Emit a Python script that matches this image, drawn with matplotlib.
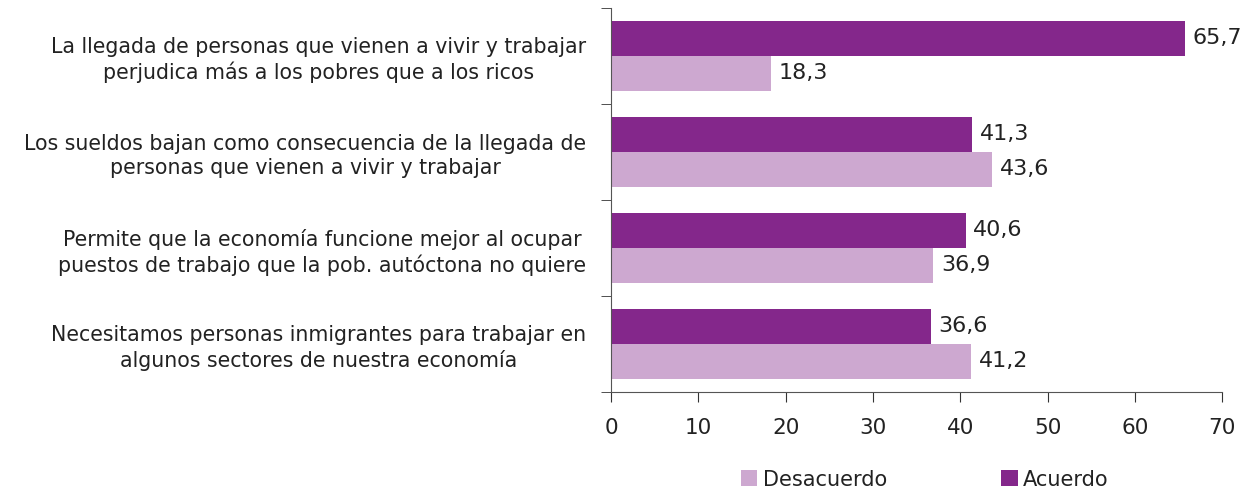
import matplotlib.pyplot as plt
import numpy as np

plt.rcParams['font.family'] = ['DejaVu Sans']

categories = [
    "La llegada de personas que vienen a vivir y trabajar\nperjudica más a los pobres que a los ricos",
    "Los sueldos bajan como consecuencia de la llegada de\npersonas que vienen a vivir y trabajar",
    "Permite que la economía funcione mejor al ocupar\npuestos de trabajo que la pob. autóctona no quiere",
    "Necesitamos personas inmigrantes para trabajar en\nalgunos sectores de nuestra economía",
]
acuerdo = [65.7, 41.3, 40.6, 36.6]
desacuerdo = [18.3, 43.6, 36.9, 41.2]

col_acuerdo = '#84278B'
col_desacuerdo = '#CDA8D0'
text_col = '#222222'

fig = plt.figure(figsize=(12.6, 4.96), dpi=100)
ax = fig.add_axes([0.485, 0.21, 0.485, 0.774])

y = np.arange(len(categories))
h = 0.365
b1 = ax.barh(y - h / 2, acuerdo, height=h, color=col_acuerdo, label='Acuerdo')
b2 = ax.barh(y + h / 2, desacuerdo, height=h, color=col_desacuerdo, label='Desacuerdo')

for bars, vals in ((b1, acuerdo), (b2, desacuerdo)):
    for bar, v in zip(bars, vals):
        ax.text(bar.get_width() + 0.9, bar.get_y() + bar.get_height() / 2,
                f"{v:.1f}".replace('.', ','), va='center', ha='left',
                fontsize=16, color=text_col)

ax.set_ylim(len(categories) - 0.5, -0.5)
ax.set_xlim(0, 70)
ax.set_xticks(range(0, 71, 10))
ax.set_yticks(y)
ax.set_yticklabels(categories, fontsize=14.8, color=text_col, multialignment='center',
                   linespacing=1.25)
ax.set_yticks(np.arange(-0.5, len(categories)), minor=True)
ax.tick_params(axis='y', which='major', length=0, pad=18)
ax.tick_params(axis='y', which='minor', length=7, direction='out', color='#333333')
ax.tick_params(axis='x', length=7, direction='out', labelsize=15.5, labelcolor=text_col,
               pad=12, color='#333333')

for s in ('top', 'right'):
    ax.spines[s].set_visible(False)
ax.spines['left'].set_color('#555555')
ax.spines['bottom'].set_color('#555555')

handles = [b2, b1]
fig.legend(handles, ['Desacuerdo', 'Acuerdo'], loc='lower center',
           bbox_to_anchor=(0.734, -0.025), ncol=2, frameon=False,
           fontsize=15, handlelength=0.8, handleheight=0.8, handletextpad=0.25,
           columnspacing=5.5, labelcolor=text_col)

fig.savefig('out.png', dpi=100)
